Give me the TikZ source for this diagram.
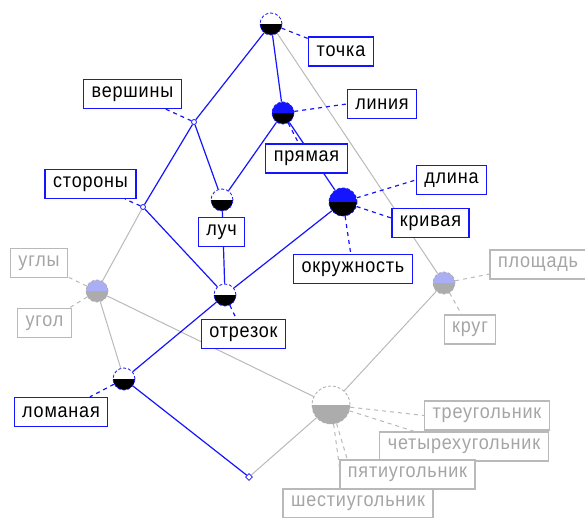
\documentclass[tikz,border=0pt]{standalone}
\usepackage{fontspec}
\setmainfont{Liberation Sans}[FakeStretch=0.9, LetterSpace=4]
\usetikzlibrary{shapes.geometric}
\pgfdeclarelayer{bg}
\pgfsetlayers{bg,main}
\definecolor{lblue}{RGB}{20,20,255}
\definecolor{lgray}{RGB}{185,185,185}
\definecolor{tgray}{RGB}{165,165,165}
\definecolor{pale}{RGB}{170,175,245}
\definecolor{cgray}{RGB}{172,172,172}

\begin{document}
\begin{tikzpicture}[x=1pt,y=-1pt,
  conc/.style n args={4}{circle, inner sep=0pt, minimum size=#1,
    draw=#4, densely dashed, line width=0.8pt,
    path picture={
      \fill[#2] (path picture bounding box.west) rectangle (path picture bounding box.north east);
      \fill[#3] (path picture bounding box.west) rectangle (path picture bounding box.south east);}},
  dotpt/.style={circle, inner sep=0pt, minimum size=5pt, draw=lblue, line width=0.8pt, fill=white},
  btm/.style={diamond, inner sep=0pt, minimum size=7pt, draw=lblue, line width=0.8pt, fill=white},
  lab/.style={draw=lblue, line width=1.3pt, fill=white, text=black, inner xsep=8pt,
    inner ysep=0pt, minimum height=29pt, font=\fontsize{20}{20}\selectfont},
  glab/.style={lab, draw=lgray, text=tgray},
  be/.style={lblue, line width=1.2pt},
  ge/.style={lgray, line width=1pt},
  bd/.style={lblue, line width=1.2pt, dash pattern=on 4pt off 4pt},
  gd/.style={lgray, line width=1pt, dash pattern=on 4pt off 4pt}]

\useasboundingbox (0,0) rectangle (585,518);

% concepts of the lattice
\node[conc={22pt}{white}{black}{lblue}] (T) at (271,24) {};
\node[conc={22pt}{lblue}{black}{lblue}] (L) at (283,113) {};
\node[dotpt] (V) at (194,122) {};
\node[dotpt] (S) at (143,207) {};
\node[conc={22pt}{white}{black}{lblue}] (R) at (222,200) {};
\node[conc={28pt}{lblue}{black}{lblue}] (K) at (343,202) {};
\node[conc={22pt}{white}{black}{lblue}] (O) at (225,295) {};
\node[conc={22pt}{pale}{cgray}{cgray}] (Y) at (97,291) {};
\node[conc={22pt}{white}{black}{lblue}] (LM) at (124,379) {};
\node[conc={22pt}{pale}{cgray}{cgray}] (KR) at (444,283) {};
\node[conc={38pt}{white}{cgray}{cgray}] (TR) at (331,405) {};
\node[btm] (B) at (249,477) {};

% attribute and object labels
\node[lab] (lTo) at (341,51.5) {точка};
\node[lab] (lLi) at (382,104) {линия};
\node[lab] (lVe) at (132.5,94) {вершины};
\node[lab] (lSt) at (90.5,184) {стороны};
\node[lab] (lPr) at (306.5,158.5) {прямая};
\node[lab] (lLu) at (221.5,232) {луч};
\node[lab] (lDl) at (451.5,180) {длина};
\node[lab] (lKv) at (430.5,223) {кривая};
\node[lab] (lOk) at (353,269) {окружность};
\node[lab] (lOt) at (243.5,334) {отрезок};
\node[lab] (lLo) at (61,412) {ломаная};
\node[glab] (lUs) at (39,263) {углы};
\node[glab] (lUg) at (44.5,323) {угол};
\node[glab] (lPl) at (538,264.5) {площадь};
\node[glab] (lKr) at (470,329.5) {круг};
\node[glab] (l3) at (487,415.5) {треугольник};
\node[glab] (l4) at (464,446.5) {четырехугольник};
\node[glab] (l5) at (407.5,474.5) {пятиугольник};
\node[glab] (l6) at (358,503.5) {шестиугольник};

\begin{pgfonlayer}{bg}
  % lattice order
  \draw[ge] (T) -- (KR);
  \draw[ge] (S) -- (Y);
  \draw[ge] (Y) -- (LM);
  \draw[ge] (Y) -- (TR);
  \draw[ge] (KR) -- (TR);
  \draw[ge] (TR) -- (B);
  \draw[be] (T) -- (V);
  \draw[be] (T) -- (L);
  \draw[be] (V) -- (S);
  \draw[be] (V) -- (R);
  \draw[be] (L) -- (R);
  \draw[be] (L) -- (K);
  \draw[be] (S) -- (O);
  \draw[be] (R) -- (O);
  \draw[be] (K) -- (O);
  \draw[be] (O) -- (LM);
  \draw[be] (LM) -- (B);
  % label leaders
  \draw[bd] (T) -- (lTo);
  \draw[bd] (L) -- (lLi.west);
  \draw[bd] (L) -- (lPr);
  \draw[bd] (V) -- (lVe);
  \draw[bd] (S) -- (lSt);
  \draw[bd] (K) -- (lDl.west);
  \draw[bd] (K) -- ([yshift=5pt]lKv.west);
  \draw[bd] (K) -- (lOk);
  \draw[bd] (O) -- (lOt);
  \draw[bd] (LM) -- (lLo);
  \draw[gd] (Y) -- (lUs);
  \draw[gd] (Y) -- (lUg);
  \draw[gd] (KR) -- (lPl);
  \draw[gd] (KR) -- (lKr);
  \draw[gd] (TR) -- (l3.west);
  \draw[gd] (TR) -- ([xshift=35pt]l4.north west);
  \draw[gd] (TR) -- ([xshift=8pt]l5.north west);
  \draw[gd] (TR) -- ([xshift=60pt]l6.north west);
\end{pgfonlayer}
\end{tikzpicture}
\end{document}
